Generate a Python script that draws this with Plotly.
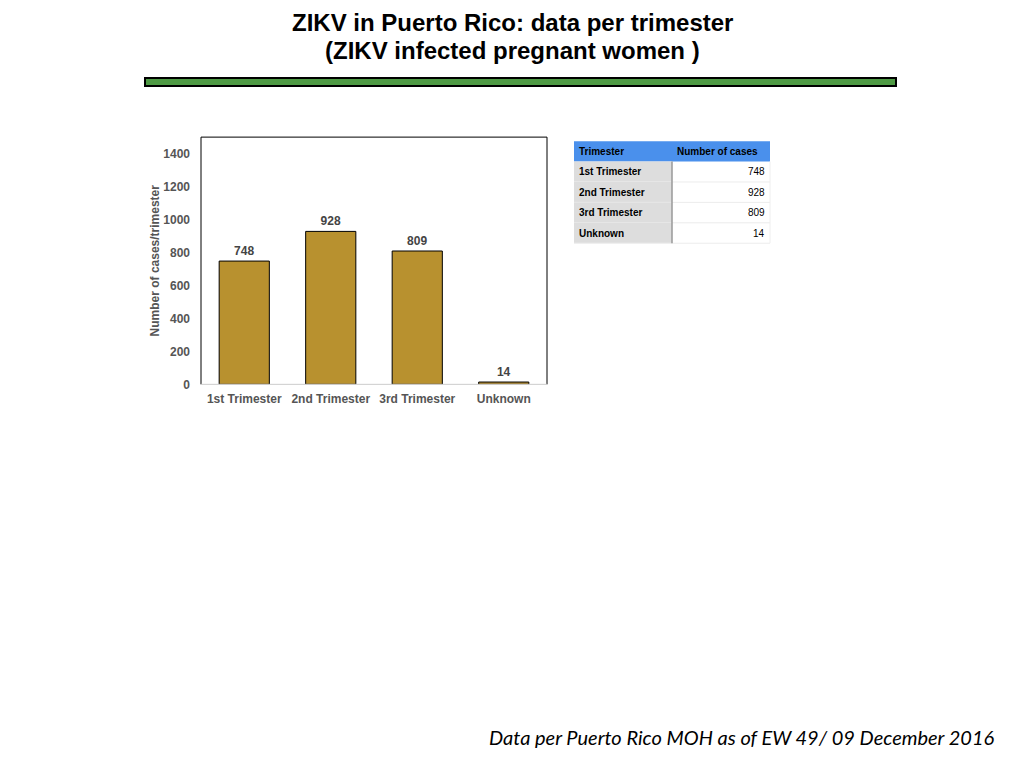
import plotly.graph_objects as go

W, H = 1024, 768
SY = 0.99  # the page photo comes out slightly squeezed vertically

categories = ["1st Trimester", "2nd Trimester", "3rd Trimester", "Unknown"]
cases = [748, 928, 809, 14]
y_ticks = [0, 200, 400, 600, 800, 1000, 1200, 1400]

title_lines = ["ZIKV in Puerto Rico: data per trimester", "(ZIKV infected pregnant women )"]
footer = "Data per Puerto Rico MOH as of EW 49/ 09 December 2016"
table_header = ["Trimester", "Number of cases"]

BAR_COLOR = "#b8912f"
AXIS_GREY = "#555555"
HEADER_BLUE = "#4a90ec"
LABEL_GREY = "#dddddd"


def px_x(p):
    return p / W


def px_y(p):
    return 1 - p / SY / H


fig = go.Figure()

fig.add_trace(go.Bar(
    x=categories,
    y=cases,
    marker=dict(color=BAR_COLOR, line=dict(color="black", width=1)),
    text=[str(v) for v in cases],
    textposition="outside",
    textfont=dict(family="Liberation Sans", size=12, color="#444444"),
    texttemplate="<b>%{text}</b>",
    cliponaxis=False,
    showlegend=False,
    hoverinfo="skip",
))

shapes = [
    # plot frame: black on three sides, grey baseline
    dict(type="line", xref="x domain", yref="y domain", x0=0, x1=0, y0=0, y1=1,
         line=dict(color="black", width=1)),
    dict(type="line", xref="x domain", yref="y domain", x0=0, x1=1, y0=1, y1=1,
         line=dict(color="black", width=1)),
    dict(type="line", xref="x domain", yref="y domain", x0=1, x1=1, y0=0, y1=1,
         line=dict(color="black", width=1)),
    dict(type="line", xref="x domain", yref="y domain", x0=0, x1=1, y0=0, y1=0,
         line=dict(color="#cccccc", width=1)),
    # green rule under the title
    dict(type="rect", xref="paper", yref="paper",
         x0=px_x(145), x1=px_x(896), y0=px_y(86), y1=px_y(78),
         fillcolor="#4e9a44", line=dict(color="black", width=2)),
]

annotations = [
    dict(text="<b>%s</b>" % title_lines[0], x=px_x(512), y=px_y(22),
         xanchor="center", yanchor="middle",
         font=dict(family="Liberation Sans", size=24, color="black")),
    dict(text="<b>%s</b>" % title_lines[1], x=px_x(512), y=px_y(50),
         xanchor="center", yanchor="middle",
         font=dict(family="Liberation Sans", size=24, color="black")),
    dict(text="<i>%s</i>" % footer, x=px_x(997), y=px_y(736),
         xanchor="right", yanchor="middle",
         font=dict(family="Lato", size=20, color="black")),
]

# summary table to the right of the chart
tab_left, tab_mid, tab_right = 574, 672, 770
tab_top, row_h = 141, 20.4

shapes.append(dict(type="rect", xref="paper", yref="paper",
                   x0=px_x(tab_left), x1=px_x(tab_right),
                   y0=px_y(tab_top + row_h), y1=px_y(tab_top),
                   fillcolor=HEADER_BLUE, line=dict(width=0)))
annotations.append(dict(text="<b>%s</b>" % table_header[0], x=px_x(tab_left + 3),
                        y=px_y(tab_top + row_h / 2), xanchor="left", yanchor="middle",
                        font=dict(family="Liberation Sans", size=10, color="black")))
annotations.append(dict(text="<b>%s</b>" % table_header[1], x=px_x(tab_mid + 3),
                        y=px_y(tab_top + row_h / 2), xanchor="left", yanchor="middle",
                        font=dict(family="Liberation Sans", size=10, color="black")))

for i, (cat, val) in enumerate(zip(categories, cases)):
    top = tab_top + row_h * (i + 1)
    bot = top + row_h
    shapes.append(dict(type="rect", xref="paper", yref="paper",
                       x0=px_x(tab_left), x1=px_x(tab_mid), y0=px_y(bot), y1=px_y(top),
                       fillcolor=LABEL_GREY, line=dict(width=0)))
    shapes.append(dict(type="line", xref="paper", yref="paper",
                       x0=px_x(tab_left), x1=px_x(tab_right), y0=px_y(bot), y1=px_y(bot),
                       line=dict(color="#ececec", width=1)))
    annotations.append(dict(text="<b>%s</b>" % cat, x=px_x(tab_left + 3),
                            y=px_y(top + row_h / 2), xanchor="left", yanchor="middle",
                            font=dict(family="Liberation Sans", size=10, color="black")))
    annotations.append(dict(text=str(val), x=px_x(tab_right - 3),
                            y=px_y(top + row_h / 2), xanchor="right", yanchor="middle",
                            font=dict(family="Liberation Sans", size=10, color="black")))

shapes.append(dict(type="line", xref="paper", yref="paper",
                   x0=px_x(tab_mid), x1=px_x(tab_mid),
                   y0=px_y(tab_top + row_h * 5), y1=px_y(tab_top + row_h),
                   line=dict(color="#999999", width=1.5)))
shapes.append(dict(type="line", xref="paper", yref="paper",
                   x0=px_x(tab_right), x1=px_x(tab_right),
                   y0=px_y(tab_top + row_h * 5), y1=px_y(tab_top + row_h),
                   line=dict(color="#eeeeee", width=1)))

for a in annotations:
    a.update(xref="paper", yref="paper", showarrow=False)

fig.update_layout(
    width=W,
    height=H,
    margin=dict(l=0, r=0, t=0, b=0),
    paper_bgcolor="white",
    plot_bgcolor="white",
    bargap=0.42,
    font=dict(family="Liberation Sans"),
    xaxis=dict(
        domain=[px_x(201), px_x(547)],
        showgrid=False,
        showline=False,
        ticks="",
        tickfont=dict(size=12, color=AXIS_GREY, family="Liberation Sans"),
        tickprefix="<b>",
        ticksuffix="</b>",
        ticklabelstandoff=6,
        fixedrange=True,
    ),
    yaxis=dict(
        domain=[px_y(384), px_y(137)],
        range=[0, 1500],
        tickvals=y_ticks,
        ticktext=["<b>%d</b>" % t for t in y_ticks],
        showgrid=False,
        zeroline=False,
        ticks="",
        tickfont=dict(size=12, color=AXIS_GREY, family="Liberation Sans"),
        ticklabelstandoff=10,
        title=dict(text="<b>Number of cases/trimester</b>",
                   font=dict(size=12, color=AXIS_GREY), standoff=1),
        fixedrange=True,
    ),
    shapes=shapes,
    annotations=annotations,
)

# drop the default body margin so the figure sits at the page origin
fig.write_html("out.html", config={"displayModeBar": False},
               post_script="document.body.style.margin = '0';")
